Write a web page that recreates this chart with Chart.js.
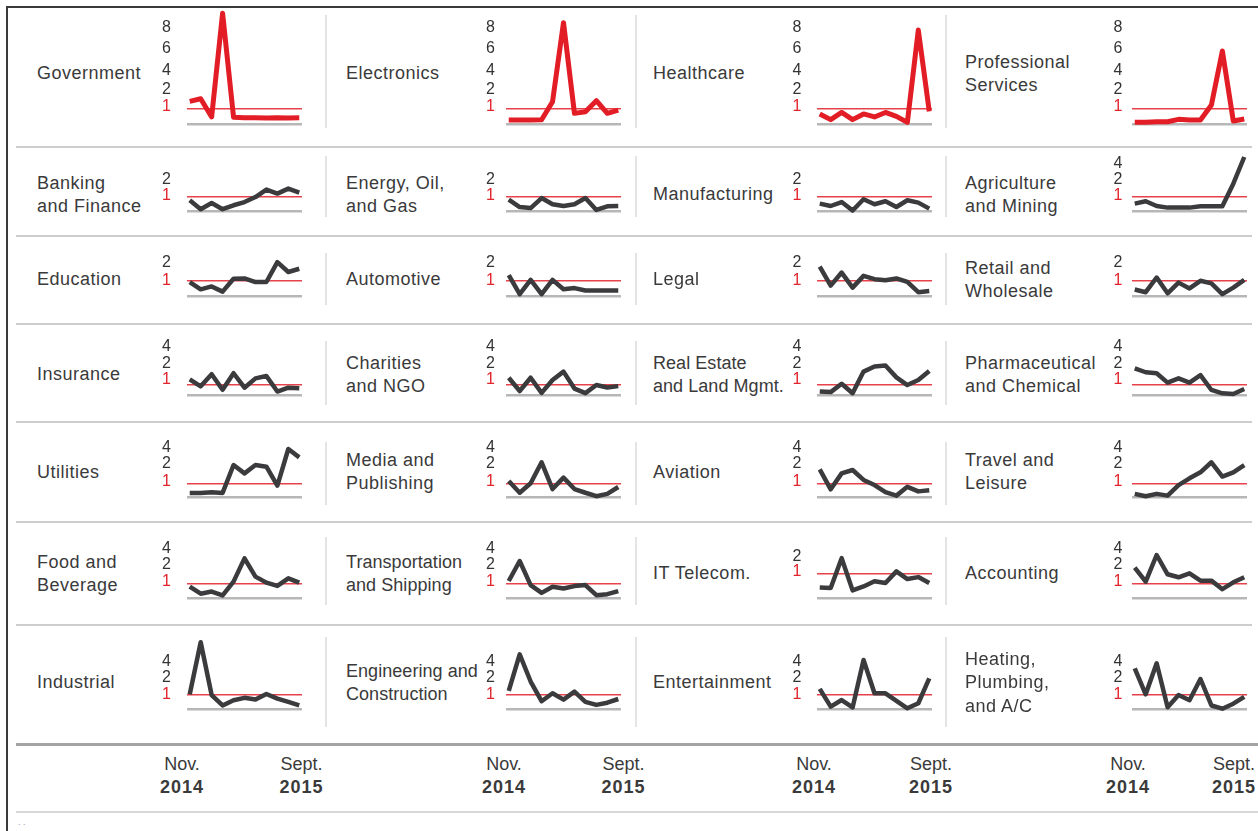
<!DOCTYPE html>
<html><head><meta charset="utf-8">
<script src="https://cdn.jsdelivr.net/npm/chart.js@4.4.1/dist/chart.umd.min.js"></script>
<style>
html,body{margin:0;padding:0;background:#fff;}
#page{position:relative;width:1258px;height:831px;overflow:hidden;font-family:"Liberation Sans",Arial,sans-serif;color:#3a3a3a;}
.lbl{position:absolute;font-size:18px;line-height:23.3px;letter-spacing:0.5px;white-space:nowrap;}
.lbl.tight{letter-spacing:0.05px;}
.ln{position:absolute;}
canvas{position:absolute;}
.ax{position:absolute;font-size:18px;text-align:center;width:90px;line-height:23px;white-space:nowrap;}
.ax b{letter-spacing:1px;}
</style></head><body><div id="page"></div>
<script>
// ---------- DATA ----------
const months = ['Nov 2014','Dec 2014','Jan 2015','Feb 2015','Mar 2015','Apr 2015','May 2015','Jun 2015','Jul 2015','Aug 2015','Sep 2015'];
const axisMonths = ['Nov.', 'Sept.'];
const axisYears = ['2014', '2015'];
const sectors = [
  'Government','Electronics','Healthcare','Professional\nServices',
  'Banking\nand Finance','Energy, Oil,\nand Gas','Manufacturing','Agriculture\nand Mining',
  'Education','Automotive','Legal','Retail and\nWholesale',
  'Insurance','Charities\nand NGO','Real Estate\nand Land Mgmt.','Pharmaceutical\nand Chemical',
  'Utilities','Media and\nPublishing','Aviation','Travel and\nLeisure',
  'Food and\nBeverage','Transportation\nand Shipping','IT Telecom.','Accounting',
  'Industrial','Engineering and\nConstruction','Entertainment','Heating,\nPlumbing,\nand A/C'
];
const government    = [1.45, 1.6, 0.47, 9.6, 0.45, 0.42, 0.42, 0.4, 0.41, 0.4, 0.41];
const electronics   = [0.27, 0.27, 0.27, 0.28, 1.43, 8.7, 0.71, 0.82, 1.49, 0.71, 0.93];
const healthcare    = [0.67, 0.29, 0.77, 0.29, 0.67, 0.47, 0.77, 0.51, 0.11, 8.0, 0.84];
const professional  = [0.11, 0.11, 0.15, 0.15, 0.31, 0.27, 0.27, 1.24, 6.0, 0.2, 0.33];
const banking       = [0.73, 0.12, 0.54, 0.12, 0.39, 0.61, 0.95, 1.42, 1.17, 1.48, 1.23];
const energy        = [0.78, 0.27, 0.2, 0.88, 0.46, 0.34, 0.46, 0.88, 0.07, 0.32, 0.34];
const manufacturing = [0.5, 0.34, 0.61, 0.03, 0.8, 0.46, 0.66, 0.27, 0.73, 0.57, 0.16];
const agriculture   = [0.5, 0.66, 0.34, 0.23, 0.23, 0.23, 0.32, 0.32, 0.32, 1.79, 4.97];
const education     = [0.92, 0.44, 0.63, 0.29, 1.11, 1.13, 0.92, 0.92, 2.02, 1.48, 1.66];
const automotive    = [1.31, 0.12, 1.05, 0.12, 1.05, 0.45, 0.52, 0.36, 0.36, 0.36, 0.36];
const legal         = [1.77, 0.68, 1.45, 0.55, 1.27, 1.09, 1.03, 1.13, 0.93, 0.25, 0.33];
const retail        = [0.43, 0.25, 1.18, 0.18, 0.88, 0.5, 1.0, 0.83, 0.12, 0.55, 1.05];
const insurance     = [1.3, 0.81, 1.61, 0.49, 1.67, 0.68, 1.36, 1.5, 0.32, 0.68, 0.62];
const charities     = [1.4, 0.37, 1.4, 0.2, 1.26, 1.77, 0.6, 0.17, 0.93, 0.7, 0.83];
const realEstate    = [0.33, 0.27, 1.03, 0.17, 1.77, 2.15, 2.27, 1.42, 0.93, 1.26, 1.81];
const pharma        = [1.97, 1.73, 1.67, 1.1, 1.36, 1.1, 1.56, 0.47, 0.16, 0.1, 0.56];
const utilities     = [0.3, 0.3, 0.35, 0.3, 2.07, 1.56, 2.07, 1.94, 0.83, 4.05, 3.02];
const media         = [1.13, 0.31, 1.0, 2.41, 0.58, 1.32, 0.58, 0.31, 0.06, 0.23, 0.73];
const aviation      = [1.79, 0.56, 1.56, 1.75, 1.19, 0.87, 0.36, 0.1, 0.74, 0.41, 0.49];
const travel        = [0.23, 0.05, 0.23, 0.1, 0.87, 1.28, 1.62, 2.41, 1.38, 1.62, 2.07];
const food          = [0.78, 0.29, 0.44, 0.18, 1.1, 2.99, 1.4, 1.04, 0.82, 1.3, 1.04];
const transportation= [1.14, 2.67, 0.88, 0.35, 0.77, 0.65, 0.81, 0.88, 0.19, 0.26, 0.47];
const itTelecom     = [0.43, 0.41, 1.99, 0.31, 0.47, 0.68, 0.61, 1.13, 0.77, 0.85, 0.61];
const accounting    = [1.94, 1.1, 3.39, 1.54, 1.36, 1.6, 1.16, 1.16, 0.6, 1.06, 1.36];
const industrial    = [1.0, 6.54, 0.95, 0.24, 0.6, 0.76, 0.64, 1.02, 0.71, 0.48, 0.24];
const engineering   = [1.2, 4.99, 1.76, 0.53, 1.06, 0.64, 1.16, 0.49, 0.28, 0.43, 0.68];
const entertainment = [1.32, 0.16, 0.61, 0.11, 4.26, 1.06, 1.06, 0.55, 0.05, 0.39, 1.95];
const heating       = [3.19, 1.0, 3.83, 0.12, 0.95, 0.6, 1.91, 0.24, 0.02, 0.36, 0.83];

const series = [
  government, electronics, healthcare, professional,
  banking, energy, manufacturing, agriculture,
  education, automotive, legal, retail,
  insurance, charities, realEstate, pharma,
  utilities, media, aviation, travel,
  food, transportation, itTelecom, accounting,
  industrial, engineering, entertainment, heating
];
const ticksTop = [1, 2, 4, 6, 8];
const ticksTwo = [1, 2];
const ticksFour = [1, 2, 4];
const panelTicks = [
  ticksTop, ticksTop, ticksTop, ticksTop,
  ticksTwo, ticksTwo, ticksTwo, ticksFour,
  ticksTwo, ticksTwo, ticksTwo, ticksTwo,
  ticksFour, ticksFour, ticksFour, ticksFour,
  ticksFour, ticksFour, ticksFour, ticksFour,
  ticksFour, ticksFour, ticksTwo, ticksFour,
  ticksFour, ticksFour, ticksFour, ticksFour
];

// ---------- LAYOUT / STYLE ----------
Chart.defaults.font.family = 'Liberation Sans';
Chart.defaults.font.size = 16;
const RED = '#e21d26', RED_REF = '#e7424b', DARK = '#3b3b3e', BASE = '#b7b7b7';
const colChartLeft = [187, 506, 817, 1132];
const colTickPad = [16, 11, 15.5, 9.5];
const colLabelX = [37, 346, 653, 965];
const tightLabels = [21, 25, 14];
const rowBase = [124.3, 210.7, 295.5, 395, 497, 598, 709];
const rowCenter = [74, 195, 280, 375, 472.5, 574, 683];
const rowKnotPx = [[15, 32, 51, 73, 94], [14.7, 30.7, 46.4], [15.2, 33.5], [10.7, 27.2, 43.7],
                   [13.7, 31.4, 47.6], [14.7, 31.4, 48.1], [14.7, 31.5, 47]];
const itKnotPx = [24.6, 40];
const rowShift = [-2, -1, 0, -4.3, -1.6, -1.6, 0];
const rowTopPx = [118, 70, 70, 70, 70, 70, 70];
const CHART_W = 115, AXIS_W = 40, PAD = 30, PAD_R = 6, MIN_PX = -5;

const knotMap = new WeakMap();
class PiecewiseScale extends Chart.LinearScale {
  _toPx(v) {
    const k = knotMap.get(this.chart.canvas);
    const t = [0].concat(k.vals), p = [0].concat(k.px);
    let i = 1;
    while (i < t.length - 1 && v > t[i]) i++;
    return p[i - 1] + (v - t[i - 1]) * (p[i] - p[i - 1]) / (t[i] - t[i - 1]);
  }
  getPixelForValue(v) {
    if (v === null || v === undefined || isNaN(v)) return NaN;
    return super.getPixelForValue(this._toPx(v));
  }
}
PiecewiseScale.id = 'piecewise';
PiecewiseScale.defaults = {};
Chart.register(PiecewiseScale);

const page = document.getElementById('page');
function box(x, y, w, h, color) {
  const d = document.createElement('div');
  d.className = 'ln';
  d.style.cssText = `left:${x}px;top:${y}px;width:${w}px;height:${h}px;background:${color};`;
  page.appendChild(d);
}
// frame
box(7, 6, 1251, 2, '#3a3a3a');
box(6, 6, 2, 825, '#3a3a3a');
// row separators
[146, 235, 323, 421, 521, 624].forEach(y => box(16, y, 1236, 2, '#cdcdcd'));
box(16, 743, 1242, 2.5, '#a4a4a4');
box(16, 811, 1242, 2, '#d8d8d8');
// vertical separators
const vSpans = [[15, 128], [156, 217], [253, 305], [341, 405], [442, 505], [537, 605], [637, 727]];
[325, 635, 945].forEach(x => vSpans.forEach(s => box(x, s[0], 2, s[1] - s[0], '#e4e4e4')));

// bottom axis labels
const nov = [182, 504, 814, 1128], sep = [301.5, 623.5, 931, 1234];
function axLabel(cx, m, yr) {
  const d = document.createElement('div');
  d.className = 'ax';
  d.style.left = (cx - 45) + 'px';
  d.style.top = '753px';
  d.innerHTML = m + '<br><b>' + yr + '</b>';
  page.appendChild(d);
}
nov.forEach(x => axLabel(x, axisMonths[0], axisYears[0]));
sep.forEach(x => axLabel(x, axisMonths[1], axisYears[1]));
const dots = document.createElement('div');
dots.style.cssText = 'position:absolute;left:18px;top:817px;font-size:9px;color:#999;';
dots.textContent = '. .';
page.appendChild(dots);

// panels
sectors.forEach((name, idx) => {
  const r = Math.floor(idx / 4), c = idx % 4;
  const lines = name.split('\n');
  const lb = document.createElement('div');
  lb.className = 'lbl' + (tightLabels.includes(idx) ? ' tight' : '');
  lb.style.left = colLabelX[c] + 'px';
  lb.style.top = (rowCenter[r] - lines.length * 23.3 / 2) + 'px';
  lb.innerHTML = lines.join('<br>');
  page.appendChild(lb);

  const ticks = panelTicks[idx];
  const knotPx = (idx === 22 ? itKnotPx : rowKnotPx[r]).slice(0, ticks.length);
  const cv = document.createElement('canvas');
  const W = AXIS_W + CHART_W + PAD_R;
  const H = PAD * 2 + rowTopPx[r] - MIN_PX;
  cv.width = W; cv.height = H;
  cv.style.left = (colChartLeft[c] - AXIS_W) + 'px';
  cv.style.top = (rowBase[r] - rowTopPx[r] - PAD) + 'px';
  page.appendChild(cv);
  knotMap.set(cv, { vals: ticks, px: knotPx });

  const color = r === 0 ? RED : DARK;
  new Chart(cv, {
    type: 'line',
    data: {
      labels: months,
      datasets: [{
        data: series[idx].map((v, i) => ({ x: i, y: v })),
        borderColor: color,
        borderWidth: r === 0 ? 5 : 4.5,
        pointRadius: 0,
        tension: 0,
        fill: false,
        clip: false,
        borderJoinStyle: 'round',
        borderCapStyle: 'butt'
      }]
    },
    options: {
      responsive: false,
      animation: false,
      devicePixelRatio: 1,
      events: [],
      layout: { padding: { top: PAD, bottom: PAD, left: 0, right: PAD_R } },
      plugins: { legend: { display: false }, tooltip: { enabled: false } },
      scales: {
        x: { type: 'linear', display: false, min: -0.25, max: 10.25 },
        y: {
          type: 'piecewise',
          position: 'left',
          min: MIN_PX,
          max: rowTopPx[r],
          afterBuildTicks: s => { s.ticks = [0].concat(ticks).map(v => ({ value: v })); },
          afterFit: s => { s.width = AXIS_W; },
          border: { display: false },
          grid: {
            drawTicks: false,
            color: ctx => ctx.tick && ctx.tick.value === 1 ? RED_REF : (ctx.tick && ctx.tick.value === 0 ? BASE : 'rgba(0,0,0,0)'),
            lineWidth: ctx => ctx.tick && ctx.tick.value === 1 ? 1.6 : (ctx.tick && ctx.tick.value === 0 ? 2.5 : 0)
          },
          ticks: {
            autoSkip: false,
            padding: colTickPad[c],
            labelOffset: rowShift[r],
            font: { family: 'Liberation Sans', size: 16 },
            color: ctx => ctx.tick && ctx.tick.value === 1 ? '#e2242c' : '#333',
            callback: v => v === 0 ? '' : String(v)
          }
        }
      }
    }
  });
});
</script>
</body></html>
